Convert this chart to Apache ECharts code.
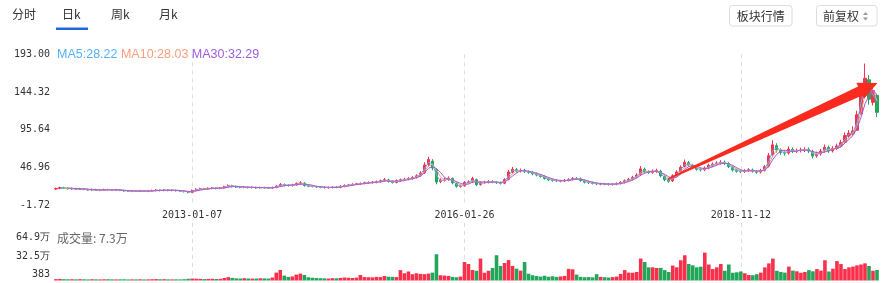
<!DOCTYPE html>
<html><head><meta charset="utf-8">
<script src="https://cdn.jsdelivr.net/npm/echarts@6/dist/echarts.min.js"></script>
<style>html,body{margin:0;padding:0;background:#fff}#c{width:888px;height:283px}</style>
</head><body><div id="c"></div>
<script>
// ---- data (each candle ~ a couple of weeks) ----
const closePrices = [
19.5,20.7,20.2,19.3,19.6,18.9,19.2,18.5,17.8,18.3,
17.5,17.4,18.2,18.0,17.6,17.9,17.2,16.6,16.0,16.5,
16.2,16.6,16.1,16.5,16.9,17.5,17.0,17.6,17.2,17.4,
16.8,16.3,15.6,14.6,17.0,18.6,19.2,19.0,19.8,20.3,
19.7,20.2,21.8,23.2,22.4,21.6,21.0,21.5,20.8,21.2,
20.4,20.9,20.6,20.2,20.8,22.6,24.8,23.9,23.5,24.2,
26.0,27.0,23.4,22.6,22.3,21.7,21.2,20.7,20.9,21.3,
21.0,22.5,23.6,24.2,25.0,25.6,26.0,27.0,27.2,27.8,
28.4,29.5,31.0,28.8,27.4,29.6,30.8,31.6,32.5,33.8,
36.0,39.5,50.0,57.0,46.0,28.0,30.5,31.8,33.0,27.0,
22.5,22.8,27.5,28.2,32.5,24.5,27.2,27.8,28.6,28.0,
27.0,26.4,31.0,41.0,44.5,42.0,43.0,41.5,40.5,38.5,
37.0,35.2,32.6,30.8,30.0,29.5,29.3,30.2,31.2,32.5,
32.4,30.0,27.8,27.0,26.3,25.6,25.4,25.2,25.0,25.1,
26.0,27.5,29.5,31.5,34.0,37.0,45.0,41.0,40.5,42.0,
42.7,36.0,31.0,29.0,36.0,41.0,47.0,53.5,50.0,47.0,
44.5,43.6,46.0,49.5,51.0,52.5,53.5,52.0,48.0,43.6,
42.0,41.4,42.5,43.8,42.0,40.6,43.0,47.8,62.0,76.0,
69.4,66.0,65.2,70.5,68.0,68.5,69.4,70.0,68.0,61.5,
64.5,68.0,73.0,68.0,71.5,74.5,79.0,88.0,91.0,94.0,
115.0,145.0,162.0,135.0,146.0,118.0];
const openPrices = [
19.0,19.6,20.6,20.0,19.2,19.5,18.8,19.1,18.4,17.9,
18.1,17.3,17.5,18.3,17.9,17.5,17.8,17.1,16.5,16.1,
16.4,16.2,16.5,16.0,16.4,16.9,17.4,17.1,17.5,17.1,
17.3,16.8,16.2,15.5,14.8,17.1,18.5,19.3,19.0,19.7,
20.2,19.8,20.3,21.9,23.0,22.3,21.5,21.0,21.4,20.8,
21.1,20.5,20.8,20.5,20.2,20.9,22.5,24.6,23.8,23.4,
24.3,25.8,26.5,23.3,22.5,22.2,21.6,21.1,20.6,20.9,
21.4,21.1,22.4,23.5,24.1,25.1,25.5,26.1,27.0,27.3,
27.7,28.3,29.4,30.6,28.7,27.5,29.5,30.9,31.5,32.4,
33.9,36.2,40.0,50.5,55.0,44.0,28.5,30.2,31.5,32.5,
26.5,22.4,23.0,27.4,28.4,31.0,24.8,27.0,27.7,28.7,
27.9,27.1,26.5,31.5,40.5,44.0,42.2,43.2,41.3,40.2,
38.7,36.8,35.0,32.4,30.6,30.1,29.2,29.4,30.1,31.3,
32.6,32.2,29.8,27.9,27.1,26.2,25.3,25.5,25.3,24.9,
25.2,26.1,27.4,29.3,31.6,34.2,37.5,44.5,41.2,40.4,
41.8,42.0,35.5,31.2,29.5,36.3,41.2,47.5,53.0,49.6,
46.8,44.3,43.8,46.2,49.3,51.2,52.4,53.6,51.8,47.5,
43.4,42.1,41.5,42.6,43.6,41.8,40.8,43.2,48.5,63.0,
75.0,69.0,66.3,65.5,70.2,67.8,68.6,69.2,70.1,67.5,
61.8,64.3,68.2,72.5,68.3,71.7,74.6,79.5,87.5,90.5,
95.0,116.0,146.0,160.0,131.0,140.0];
const lowPrices = [
17.8,18.7,19.0,18.1,18.2,17.7,17.8,17.3,16.8,16.7,
16.4,16.1,16.6,16.8,16.5,16.3,16.1,15.4,15.0,14.9,
15.1,15.0,15.0,14.9,15.3,15.8,15.8,16.0,16.0,16.0,
15.6,15.2,14.4,13.2,13.8,16.0,17.4,17.7,17.9,18.6,
18.5,18.7,19.3,20.7,21.0,20.3,19.8,19.9,19.6,19.7,
19.3,19.4,19.5,19.0,19.1,19.9,21.4,22.4,22.1,22.2,
23.1,24.5,22.0,21.3,21.0,20.4,19.9,19.5,19.4,19.8,
19.9,20.0,21.2,22.3,22.9,23.9,24.3,24.9,25.6,25.9,
26.3,27.0,28.1,27.2,26.0,26.2,28.0,29.4,30.0,30.9,
32.4,34.6,38.5,48.0,43.0,25.0,26.5,28.5,29.8,25.0,
20.6,20.5,21.8,25.8,27.0,22.6,23.3,25.5,26.2,26.4,
25.5,24.8,25.2,30.0,38.8,40.0,40.4,39.6,38.6,36.7,
35.3,33.5,31.0,29.2,28.4,27.9,27.6,27.9,28.7,29.9,
30.8,28.4,26.2,25.4,24.8,24.1,23.8,23.7,23.5,23.4,
23.8,24.7,26.0,27.9,30.1,32.7,35.8,39.0,38.4,38.6,
39.8,34.0,29.0,27.0,28.0,34.6,39.6,45.8,48.0,45.0,
42.6,41.6,42.0,44.4,47.4,49.3,50.6,50.0,46.0,41.6,
40.0,39.4,39.7,40.8,40.1,38.6,39.0,41.5,46.8,60.5,
66.0,63.0,62.0,63.5,65.5,65.5,66.2,66.8,65.3,58.5,
59.5,62.0,66.0,65.5,66.0,69.5,72.5,77.5,84.5,88.0,
94.0,115.0,143.0,128.0,127.0,112.0];
const highPrices = [
20.8,22.0,21.9,21.0,20.9,20.5,20.5,20.1,19.5,19.5,
19.2,18.7,19.4,19.3,19.0,19.0,18.8,18.1,17.5,17.7,
17.5,17.9,17.5,17.7,18.2,18.8,18.5,18.9,18.6,18.5,
18.3,17.8,17.1,16.5,18.3,19.9,20.6,20.4,21.1,21.6,
21.3,21.5,23.2,25.0,24.4,23.4,22.6,22.9,22.5,22.4,
22.1,22.1,21.9,21.6,22.1,24.0,26.7,25.9,25.1,25.6,
27.5,29.2,27.8,24.5,23.7,23.3,22.7,22.2,22.1,22.6,
22.5,23.8,24.9,25.6,26.4,27.0,27.5,28.5,28.8,29.2,
29.9,31.2,33.2,32.2,30.0,31.2,32.5,33.3,34.3,35.7,
38.0,42.0,53.5,60.5,57.5,46.0,32.8,34.0,35.2,34.0,
28.0,24.6,29.2,30.1,34.8,32.5,28.9,29.6,30.4,30.2,
29.3,28.5,33.0,43.8,47.5,46.2,45.4,45.0,43.2,41.9,
40.3,38.4,36.6,33.9,32.1,31.6,30.9,31.9,32.9,34.4,
34.4,33.7,31.3,29.4,28.6,27.7,27.0,26.9,26.7,26.6,
27.5,29.1,31.2,33.3,36.0,39.4,48.5,46.6,43.2,44.2,
45.2,43.7,37.2,32.7,38.0,43.2,49.5,57.0,55.2,51.5,
48.6,46.2,48.0,51.6,53.2,54.8,56.2,55.6,53.6,49.2,
45.2,44.0,44.5,46.0,45.4,43.5,45.0,50.0,65.5,82.0,
78.0,71.5,69.0,74.0,72.7,71.3,72.3,73.0,72.5,69.6,
67.3,70.7,76.5,75.0,74.3,77.5,82.5,92.0,95.0,100.0,
120.0,150.0,181.0,166.0,150.0,142.0];
const volumes = [
22000,25000,21000,19000,20000,18000,21000,19000,17000,20000,
18000,17000,19000,20000,18000,17000,18000,19000,16000,18000,
17000,19000,16000,18000,20000,22000,19000,21000,18000,17000,
18000,17000,20000,26000,30000,28000,25000,22000,24000,26000,
23000,25000,38000,52000,40000,33000,30000,35000,31000,29000,
30000,34000,32000,30000,45000,120000,160000,75000,55000,62000,
90000,105000,85000,50000,42000,38000,35000,33000,30000,36000,
34000,40000,45000,42000,38000,44000,84000,52000,50000,48000,
55000,52000,68000,58000,55000,52000,158000,110000,137000,96000,
110000,100000,96000,105000,120000,398000,80000,75000,70000,55000,
50000,60000,280000,250000,160000,148000,333000,118000,148000,190000,
383000,220000,265000,310000,221000,180000,150000,280000,103000,80000,
68000,60000,72000,58000,65000,55000,62000,70000,177000,170000,
90000,55000,50000,52000,48000,96000,55000,50000,45000,52000,
60000,100000,158000,120000,118000,130000,333000,280000,200000,200000,
190000,192000,158000,130000,227000,200000,307000,383000,250000,230000,
200000,210000,423000,243000,174000,200000,250000,148000,243000,118000,
125000,137000,110000,84000,80000,96000,120000,200000,260000,333000,
148000,130000,120000,211000,150000,140000,118000,130000,158000,140000,
174000,150000,307000,137000,180000,295000,250000,174000,200000,211000,
230000,243000,260000,220000,148000,160000];
const dateTickIndex = [34, 102, 171];
const dateTickLabels = ['2013-01-07', '2016-01-26', '2018-11-12'];
const priceTicks = [-1.72, 46.96, 95.64, 144.32, 193.00];
const volTickValues = [383, 325000, 649000];
const volTickLabels = ['383', '32.5万', '64.9万'];
const maNames = ['MA5', 'MA10', 'MA30'];
const maWindowCandles = [2, 3, 4];      // each drawn candle spans ~10 sessions
const maLegendValues = ['28.22', '28.03', '32.29'];
const volumeLegendText = '成交量: 7.3万';
const tabLabels = ['分时', '日k', '周k', '月k'];
const buttonLabels = ['板块行情', '前复权'];
const arrowFrom = [152.8, 31.9];   // [category index, price]
const arrowTo = [205.1, 155.9];

// ---- styles ----
const UP = '#f9304c', DOWN = '#22a65a';
const MA_COLORS = ['#5db4f6', '#f8a07e', '#a35de0'];
const MONO = 'DejaVu Sans Mono';
const CJK = 'Noto Sans CJK SC';

const categories = closePrices.map((_, i) => i);
const candleData = closePrices.map((c, i) => [openPrices[i], c, lowPrices[i], highPrices[i]]);
function calcMA(n) {
  return closePrices.map((_, i) => {
    if (i < n - 1) return '-';
    let s = 0; for (let k = i - n + 1; k <= i; k++) s += closePrices[k];
    return +(s / n).toFixed(3);
  });
}
const volData = volumes.map((v, i) => ({ value: v, itemStyle: { color: closePrices[i] >= openPrices[i] ? UP : DOWN } }));

const volGridTop = 223, volGridBottomPx = 280.5, volTopLabelPx = 237.7;
const volAxisMax = volTickValues[2] + (volTopLabelPx - volGridTop) * (volTickValues[2] - volTickValues[0]) / (volGridBottomPx - volTopLabelPx);

const isTick = (i) => dateTickIndex.indexOf(i) >= 0;
const splitStyle = { show: true, interval: (i) => isTick(i), lineStyle: { color: '#dedede', type: [4, 4], width: 1 } };

const chart = echarts.init(document.getElementById('c'), null, { renderer: 'canvas' });
chart.setOption({
  animation: false,
  backgroundColor: '#fff',
  grid: [
    { left: 56, right: 11, top: 54.3, height: 150.7 },
    { left: 56, right: 11, top: volGridTop, bottom: 283 - volGridBottomPx }
  ],
  xAxis: [
    { type: 'category', gridIndex: 0, data: categories, boundaryGap: false,
      axisLine: { show: false }, axisTick: { show: false },
      axisLabel: { interval: (i) => isTick(i), formatter: (v, i) => dateTickLabels[dateTickIndex.indexOf(i)] || '',
        fontFamily: MONO, fontSize: 10, color: '#333', margin: 5 },
      splitLine: splitStyle },
    { type: 'category', gridIndex: 1, data: categories, boundaryGap: false,
      axisLine: { show: false }, axisTick: { show: false }, axisLabel: { show: false },
      splitLine: splitStyle }
  ],
  yAxis: [
    { type: 'value', gridIndex: 0, min: priceTicks[0], max: priceTicks[priceTicks.length - 1], scale: true,
      axisLine: { show: false }, axisTick: { show: false }, splitLine: { show: false },
      axisLabel: { customValues: priceTicks, formatter: (v) => v.toFixed(2), fontFamily: MONO, fontSize: 10, color: '#333', margin: 6 } },
    { type: 'value', gridIndex: 1, min: volTickValues[0], max: volAxisMax,
      axisLine: { show: false }, axisTick: { show: false }, splitLine: { show: false },
      axisLabel: { customValues: volTickValues, fontFamily: MONO, fontSize: 10, color: '#333', margin: 6,
        formatter: (v) => {
          let k = 0, best = Infinity;
          volTickValues.forEach((t, j) => { if (Math.abs(t - v) < best) { best = Math.abs(t - v); k = j; } });
          return '{s' + k + '|' + volTickLabels[k] + '}';
        },
        rich: {
          s0: { fontFamily: MONO, fontSize: 10, color: '#333', padding: [0, 0, 12, 0] },
          s1: { fontFamily: MONO, fontSize: 10, color: '#333', padding: [0, 0, 5, 0] },
          s2: { fontFamily: MONO, fontSize: 10, color: '#333', padding: [0, 0, 0, 0] }
        } } }
  ],
  series: [
    { type: 'candlestick', xAxisIndex: 0, yAxisIndex: 0, data: candleData, barWidth: 2.6,
      itemStyle: { color: UP, color0: DOWN, borderColor: UP, borderColor0: DOWN, borderWidth: 1 } },
    ...maWindowCandles.map((n, k) => ({ type: 'line', name: maNames[k], xAxisIndex: 0, yAxisIndex: 0, data: calcMA(n),
      symbol: 'none', showSymbol: false, lineStyle: { width: 1, color: MA_COLORS[k] }, z: 3 })),
    { type: 'bar', xAxisIndex: 1, yAxisIndex: 1, data: volData, barWidth: 3.6 }
  ]
});

// ---- annotations / header ----
function px(idx, val) {
  const p0 = chart.convertToPixel({ gridIndex: 0 }, [0, val]);
  const p1 = chart.convertToPixel({ gridIndex: 0 }, [1, val]);
  return [p0[0] + idx * (p1[0] - p0[0]), p0[1]];
}
const T = px(arrowFrom[0], arrowFrom[1]);
const P = px(arrowTo[0], arrowTo[1]);
const dx = P[0] - T[0], dy = P[1] - T[1], L = Math.hypot(dx, dy);
const u = [dx / L, dy / L], n = [-u[1], u[0]];
const headLen = 19, headHalf = 9, shaftHalf = 5, tailHalf = 0.8;
const B = [P[0] - u[0] * headLen, P[1] - u[1] * headLen];
const off = (p, h) => [p[0] + n[0] * h, p[1] + n[1] * h];
const arrowPts = [off(T, tailHalf), off(B, shaftHalf), off(B, headHalf), P, off(B, -headHalf), off(B, -shaftHalf), off(T, -tailHalf)];

const tabX = [12, 62, 111, 159];
const graphics = [];
tabLabels.forEach((t, i) => graphics.push({ type: 'text', left: tabX[i], top: 8,
  style: { text: t, font: '12px "' + CJK + '"', fill: '#333' } }));
graphics.push({ type: 'rect', shape: { x: 56, y: 27.5, width: 32, height: 2.5 }, style: { fill: '#2468d8' } });
graphics.push({ type: 'rect', shape: { x: 729.5, y: 5.5, width: 62.5, height: 20.5, r: 3 }, style: { fill: '#fff', stroke: '#dcdcdc', lineWidth: 1 } });
graphics.push({ type: 'text', x: 760.8, y: 16, style: { text: buttonLabels[0], font: '12px "' + CJK + '"', fill: '#333', align: 'center', verticalAlign: 'middle' } });
graphics.push({ type: 'rect', shape: { x: 816.5, y: 5.5, width: 60.5, height: 20.5, r: 3 }, style: { fill: '#fff', stroke: '#dcdcdc', lineWidth: 1 } });
graphics.push({ type: 'text', x: 823, y: 16, style: { text: buttonLabels[1], font: '12px "' + CJK + '"', fill: '#333', align: 'left', verticalAlign: 'middle' } });
graphics.push({ type: 'polygon', shape: { points: [[863, 15], [868, 15], [865.5, 12]] }, style: { fill: '#999' } });
graphics.push({ type: 'polygon', shape: { points: [[863, 17.5], [868, 17.5], [865.5, 20.5]] }, style: { fill: '#999' } });
graphics.push({ type: 'text', x: 57, y: 54.3, z: 10, style: {
  text: maNames.map((m, k) => '{m' + k + '|' + m + ':' + maLegendValues[k] + '}').join(' '),
  verticalAlign: 'middle', font: '12.5px "Liberation Sans"',
  rich: {
    m0: { fill: '#55b0fb', font: '12.5px "Liberation Sans"' },
    m1: { fill: '#fb9e7e', font: '12.5px "Liberation Sans"' },
    m2: { fill: '#a15ddf', font: '12.5px "Liberation Sans"' }
  } } });
graphics.push({ type: 'text', x: 57, y: 238.3, z: 10, style: { text: volumeLegendText, font: '12px "' + CJK + '"', fill: '#666', verticalAlign: 'middle' } });
graphics.push({ type: 'polygon', z: 20, shape: { points: arrowPts }, style: { fill: '#fb2a1e' } });
chart.setOption({ graphic: graphics });
</script>
</body></html>
